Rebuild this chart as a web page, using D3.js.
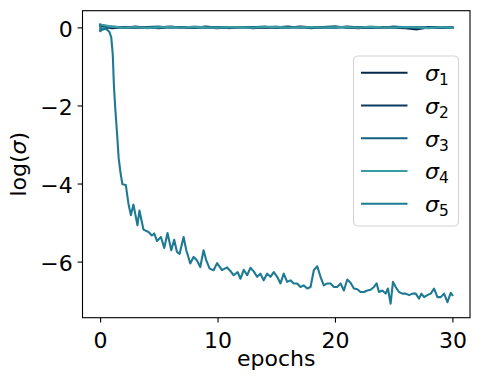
<!DOCTYPE html>
<html>
<head>
<meta charset="utf-8">
<script src="https://cdn.jsdelivr.net/npm/d3@7"></script>
<style>
  html, body { margin: 0; padding: 0; background: #fff; }
  svg { display: block; font-family: "DejaVu Sans", sans-serif; }
</style>
</head>
<body>
<svg id="chart" width="479" height="383"></svg>
<script>
// flat sigmas: one value per epoch
const FLAT_EPOCHS = d3.range(0, 31);
const SIGMA1 = [0.05, -0.02, 0.01, -0.01, 0.00, -0.02, 0.01, 0.00, -0.01, 0.02, -0.01, 0.00, 0.01, -0.02, 0.00, 0.01, -0.01, 0.02, 0.00, -0.01, 0.01, 0.00, -0.02, 0.01, 0.00, -0.01, -0.02, -0.05, 0.00, 0.01, -0.01];
const SIGMA2 = [0.06, 0.01, -0.01, 0.02, -0.01, 0.00, 0.02, -0.01, 0.01, 0.00, -0.02, 0.01, 0.00, 0.01, -0.01, 0.00, 0.02, -0.01, 0.01, 0.00, -0.01, 0.02, 0.00, -0.01, 0.01, 0.00, 0.01, -0.02, 0.01, -0.01, 0.00];
const SIGMA3 = [-0.08, 0.02, 0.00, -0.01, 0.01, 0.02, -0.01, 0.01, 0.00, -0.01, 0.01, -0.02, 0.01, 0.00, 0.02, -0.01, 0.00, 0.01, -0.02, 0.01, 0.03, -0.01, 0.01, 0.00, -0.01, 0.02, 0.00, 0.01, -0.01, 0.00, -0.01];
const SIGMA4 = [0.07, 0.02, -0.01, 0.01, -0.02, 0.00, 0.01, -0.01, 0.02, 0.00, -0.01, 0.01, 0.00, -0.01, 0.01, 0.02, -0.01, 0.00, 0.01, -0.01, 0.00, 0.01, -0.01, 0.02, 0.00, -0.01, 0.01, 0.00, -0.02, 0.01, -0.01];

// the one that collapses
const SIGMA5_EPOCHS = [0.00, 0.03, 0.15, 0.40, 0.60, 0.80, 0.95, 1.08, 1.17, 1.28, 1.45, 1.58, 1.75, 1.90, 2.19, 2.41, 2.62, 2.84, 3.18, 3.35, 3.69, 4.12, 4.41, 4.61, 4.84, 5.18, 5.46, 5.74, 6.06, 6.31, 6.54, 6.77, 7.11, 7.34, 7.68, 7.96, 8.25, 8.53, 8.81, 9.04, 9.33, 9.67, 9.96, 10.38, 10.81, 11.09, 11.37, 11.72, 11.95, 12.23, 12.52, 12.80, 13.08, 13.37, 13.65, 13.93, 14.22, 14.51, 14.79, 15.08, 15.36, 15.64, 15.93, 16.21, 16.49, 16.78, 17.06, 17.35, 17.64, 17.92, 18.20, 18.49, 18.77, 19.05, 19.34, 19.62, 19.91, 20.19, 20.48, 20.76, 21.05, 21.33, 21.61, 21.90, 22.18, 22.47, 22.75, 23.04, 23.32, 23.55, 23.75, 24.03, 24.32, 24.51, 24.74, 24.94, 25.17, 25.45, 25.74, 26.02, 26.31, 26.60, 26.88, 27.16, 27.36, 27.59, 27.87, 28.16, 28.44, 28.73, 29.01, 29.29, 29.58, 29.86, 30.00];
const SIGMA5 = [0.07, -0.10, -0.02, -0.03, -0.06, -0.12, -0.26, -0.70, -1.45, -2.03, -2.75, -3.35, -3.75, -4.02, -4.04, -4.51, -4.81, -4.54, -5.07, -4.69, -5.18, -5.24, -5.33, -5.28, -5.47, -5.37, -5.65, -5.27, -5.71, -5.44, -5.75, -5.80, -5.37, -5.71, -6.05, -5.88, -5.97, -6.14, -5.71, -5.97, -6.18, -6.22, -6.04, -6.22, -6.15, -6.24, -6.35, -6.27, -6.44, -6.21, -6.35, -6.16, -6.25, -6.39, -6.31, -6.48, -6.31, -6.39, -6.27, -6.39, -6.56, -6.31, -6.52, -6.48, -6.56, -6.56, -6.65, -6.61, -6.69, -6.65, -6.22, -6.12, -6.39, -6.61, -6.56, -6.56, -6.65, -6.65, -6.56, -6.74, -6.46, -6.54, -6.69, -6.71, -6.78, -6.78, -6.74, -6.72, -6.65, -6.56, -6.78, -6.74, -6.82, -6.69, -7.08, -6.52, -6.65, -6.78, -6.82, -6.82, -6.86, -6.82, -6.82, -6.95, -6.82, -6.91, -6.86, -6.82, -6.69, -6.91, -6.91, -6.82, -7.04, -6.80, -6.86];

const SERIES_NAMES = ["1", "2", "3", "4", "5"];
const SERIES_COLORS = ["#05284a", "#0b3b5e", "#125f82", "#3a9ca3", "#1e7a94"];
const X_TICKS = [0, 10, 20, 30];
const Y_TICKS = [-6, -4, -2, 0];

const series = [
    { xs: FLAT_EPOCHS, ys: SIGMA1 },
    { xs: FLAT_EPOCHS, ys: SIGMA2 },
    { xs: FLAT_EPOCHS, ys: SIGMA3 },
    { xs: FLAT_EPOCHS, ys: SIGMA4 },
    { xs: SIGMA5_EPOCHS, ys: SIGMA5 }
].map((s, i) => ({
    name: SERIES_NAMES[i],
    color: SERIES_COLORS[i],
    points: s.xs.map((x, j) => ({ x, y: s.ys[j] }))
}));

// plot box
const margin = { left: 82.5, right: 470, top: 10.7, bottom: 317.7 };
const FONT = 22;

const svg = d3.select("#chart");

// matplotlib style 5% margins
const allPts = series.flatMap(s => s.points);
const xExt = d3.extent(allPts, d => d.x);
const yExt = d3.extent(allPts, d => d.y);
const xPad = (xExt[1] - xExt[0]) * 0.05;
const yPad = (yExt[1] - yExt[0]) * 0.05;

const x = d3.scaleLinear()
    .domain([xExt[0] - xPad, xExt[1] + xPad])
    .range([margin.left, margin.right]);
const y = d3.scaleLinear()
    .domain([yExt[0] - yPad, yExt[1] + yPad])
    .range([margin.bottom, margin.top]);

const fmt = d3.format("d");

// lines
const line = d3.line().x(d => x(d.x)).y(d => y(d.y));
svg.append("clipPath").attr("id", "clip").append("rect")
    .attr("x", margin.left).attr("y", margin.top)
    .attr("width", margin.right - margin.left)
    .attr("height", margin.bottom - margin.top);

svg.append("g").attr("clip-path", "url(#clip)")
    .selectAll("path")
    .data(series)
    .join("path")
    .attr("d", d => line(d.points))
    .attr("fill", "none")
    .attr("stroke", d => d.color)
    .attr("stroke-width", 2.1)
    .attr("stroke-linejoin", "round")
    .attr("stroke-linecap", "square");

// axes
const xAxis = svg.append("g")
    .attr("transform", `translate(0,${margin.bottom})`)
    .call(d3.axisBottom(x).tickValues(X_TICKS).tickFormat(fmt).tickSize(4.9).tickSizeOuter(0));
xAxis.select(".domain").remove();
xAxis.selectAll(".tick line").attr("stroke", "#000").attr("stroke-width", 1.1);
xAxis.selectAll(".tick text")
    .attr("y", 30).attr("dy", null)
    .attr("font-size", FONT).attr("font-family", "DejaVu Sans").attr("fill", "#000");

const yAxis = svg.append("g")
    .attr("transform", `translate(${margin.left},0)`)
    .call(d3.axisLeft(y).tickValues(Y_TICKS).tickFormat(fmt).tickSize(4.9).tickPadding(4.9).tickSizeOuter(0));
yAxis.select(".domain").remove();
yAxis.selectAll(".tick line").attr("stroke", "#000").attr("stroke-width", 1.1);
yAxis.selectAll(".tick text")
    .attr("dy", "0.40em")
    .attr("font-size", FONT).attr("font-family", "DejaVu Sans").attr("fill", "#000");

// frame
svg.append("rect")
    .attr("x", margin.left).attr("y", margin.top)
    .attr("width", margin.right - margin.left)
    .attr("height", margin.bottom - margin.top)
    .attr("fill", "none").attr("stroke", "#000").attr("stroke-width", 1.1);

// axis labels
svg.append("text")
    .attr("x", (margin.left + margin.right) / 2)
    .attr("y", 366)
    .attr("text-anchor", "middle")
    .attr("font-size", FONT)
    .text("epochs");

const ylab = svg.append("text")
    .attr("transform", `translate(26,${(margin.top + margin.bottom) / 2}) rotate(-90)`)
    .attr("text-anchor", "middle")
    .attr("font-size", FONT);
ylab.append("tspan").text("log(");
ylab.append("tspan").attr("font-style", "italic").text("σ");
ylab.append("tspan").text(")");

// legend
const legend = svg.append("g");
legend.append("rect")
    .attr("x", 353.5).attr("y", 56)
    .attr("width", 105).attr("height", 170)
    .attr("rx", 4).attr("ry", 4)
    .attr("fill", "#fff").attr("fill-opacity", 0.8)
    .attr("stroke", "#d3d3d3").attr("stroke-width", 1);

const rows = legend.selectAll("g.row")
    .data(series)
    .join("g")
    .attr("class", "row")
    .attr("transform", (d, i) => `translate(361,${72.7 + i * 32.75})`);

rows.append("line")
    .attr("x1", 0).attr("x2", 46.5)
    .attr("stroke", d => d.color)
    .attr("stroke-width", 2.1);

const lbl = rows.append("text")
    .attr("x", 64)
    .attr("y", 8.3)
    .attr("font-size", FONT);
lbl.append("tspan").attr("font-style", "italic").text("σ");
lbl.append("tspan")
    .attr("font-size", FONT * 0.7)
    .attr("dy", 4)
    .text(d => d.name);
</script>
</body>
</html>
